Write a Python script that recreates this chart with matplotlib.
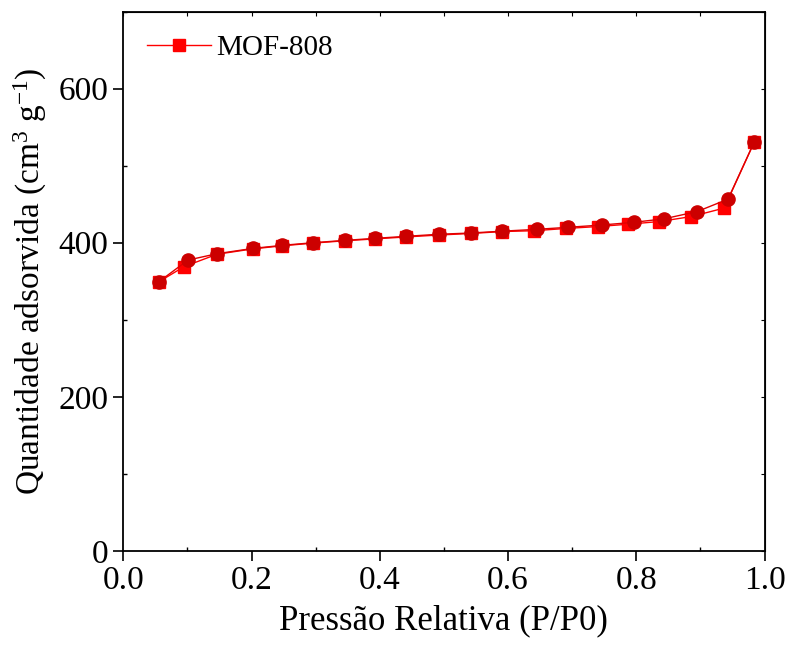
import matplotlib
matplotlib.use("Agg")
from matplotlib import pyplot as plt
from matplotlib.ticker import MultipleLocator

plt.rcParams['font.family'] = ['Liberation Serif', 'DejaVu Serif']
plt.rcParams['mathtext.fontset'] = 'custom'
plt.rcParams['mathtext.rm'] = 'Liberation Serif'
plt.rcParams['mathtext.default'] = 'regular'

# adsorption branch (squares)
ads_p = [0.055, 0.095, 0.146, 0.202, 0.248, 0.296, 0.345, 0.393, 0.441, 0.492,
         0.542, 0.591, 0.641, 0.690, 0.740, 0.787, 0.836, 0.886, 0.937, 0.984]
ads_q = [349, 369, 385, 392, 396, 399.5, 402.5, 405, 407.5, 410,
         412, 414.5, 415.6, 418.5, 421, 424, 427.5, 434, 445, 531]

# desorption branch (circles)
des_p = [0.984, 0.943, 0.895, 0.843, 0.796, 0.746, 0.693, 0.645, 0.591, 0.542,
         0.492, 0.441, 0.393, 0.345, 0.296, 0.248, 0.202, 0.146, 0.101, 0.055]
des_q = [531, 456.6, 440.5, 431, 426.5, 423, 420, 417.4, 415, 412.6,
         411, 408.3, 405.7, 403, 400, 396.6, 392.6, 385.7, 377.5, 349]

fig = plt.figure(figsize=(7.85, 6.48), dpi=100)
ax = fig.add_axes([0.157, 0.150, 0.817, 0.832])

ax.plot(ads_p, ads_q, color='#ff0000', lw=1.0, marker='s', ms=8.5,
        mfc='#ff0000', mec='#ff0000', label='MOF-808', zorder=3)
ax.plot(des_p, des_q, color='#e00000', lw=1.0, marker='o', ms=9.5,
        mfc='#cc0000', mec='#cc0000', zorder=4)

ax.set_xlim(0, 1.0)
ax.set_ylim(0, 700)
ax.xaxis.set_minor_locator(MultipleLocator(0.1))
ax.yaxis.set_major_locator(MultipleLocator(200))
ax.yaxis.set_minor_locator(MultipleLocator(100))
ax.set_xticks([0, 0.2, 0.4, 0.6, 0.8, 1.0])
ax.set_xticklabels(['0.0', '0.2', '0.4', '0.6', '0.8', '1.0'])

ax.tick_params(which='major', direction='out', length=7, width=1.2, labelsize=24)
ax.tick_params(which='minor', direction='in', length=3, width=1.0)
for s in ax.spines.values():
    s.set_linewidth(1.3)

# inward ticks on top and right
top = ax.secondary_xaxis('top')
top.xaxis.set_major_locator(MultipleLocator(0.1))
top.tick_params(direction='in', length=3, labeltop=False)
right = ax.secondary_yaxis('right')
right.yaxis.set_major_locator(MultipleLocator(100))
right.tick_params(direction='in', length=3, labelright=False)

ax.set_xlabel('Pressão Relativa (P/P0)', fontsize=25, labelpad=6)
ax.set_ylabel('Quantidade adsorvida (cm$^3$ g$^{-1}$)', fontsize=24, labelpad=7)

leg = ax.legend(loc='upper left', frameon=False, fontsize=21,
                handlelength=2.2, handletextpad=0.2, borderaxespad=0.4)

fig.savefig('out.png', dpi=100)
